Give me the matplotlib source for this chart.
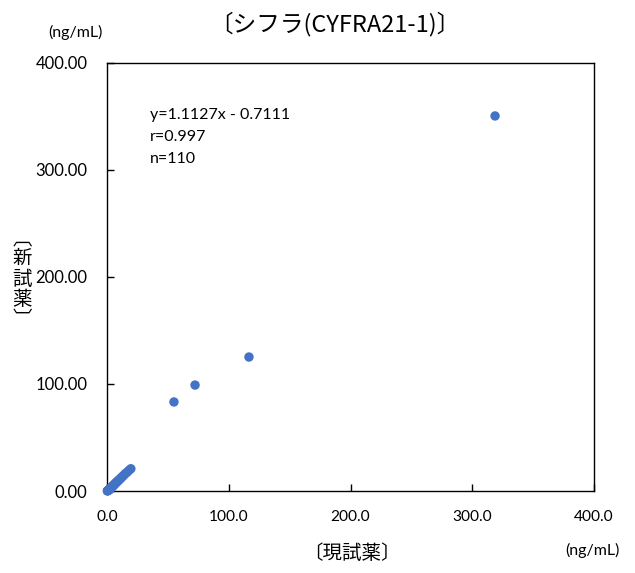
import matplotlib
matplotlib.use("Agg")
import matplotlib.pyplot as plt
import numpy as np

# current reagent (x) vs new reagent (y), ng/mL
current = [0.3, 0.5, 0.7, 0.9, 1.0, 1.2, 1.4, 1.5, 1.7, 1.9, 2.0, 2.2, 2.5, 2.7, 3.0,
           3.2, 3.5, 3.8, 4.0, 4.3, 4.6, 5.0, 5.4, 5.8, 6.2, 6.6, 7.0, 7.5, 8.0, 8.6,
           9.2, 9.8, 10.5, 11.2, 12.0, 13.0, 14.0, 15.2, 16.5, 18.0, 19.6,
           55.0, 72.3, 116.6, 318.7]
new = [0.1, 0.2, 0.4, 0.5, 0.6, 0.7, 0.9, 1.0, 1.2, 1.4, 1.5, 1.7, 2.0, 2.3, 2.6,
       2.8, 3.1, 3.6, 3.7, 4.1, 4.4, 4.9, 5.3, 5.8, 6.2, 6.8, 7.3, 7.7, 8.4, 9.0,
       9.6, 10.3, 11.1, 11.7, 12.8, 13.9, 15.0, 16.4, 17.5, 19.2, 20.8,
       83.2, 99.0, 125.2, 350.5]

stats_text = ["y=1.1127x - 0.7111", "r=0.997", "n=110"]
x_ticks = [0, 100, 200, 300, 400]
y_ticks = [0, 100, 200, 300, 400]

jp = ["Noto Sans CJK JP", "DejaVu Sans"]
num = ["Lato", "DejaVu Sans"]

fig = plt.figure(figsize=(6.35, 5.73), dpi=100)
ax = fig.add_axes([0.1685, 0.1431, 0.767, 0.747])

ax.scatter(current, new, s=46, color="#4472C4", edgecolors="none", zorder=3, clip_on=False)

ax.set_xlim(0, 400)
ax.set_ylim(0, 400)
ax.set_xticks(x_ticks)
ax.set_yticks(y_ticks)
ax.set_xticklabels(["%.1f" % v for v in x_ticks], family=num, fontsize=11.2)
ax.set_yticklabels(["%.2f" % v for v in y_ticks], family=num, fontsize=12)
ax.tick_params(direction="in", length=5, width=1, color="black")
ax.tick_params(axis="x", pad=14)
ax.tick_params(axis="y", pad=14)
for sp in ax.spines.values():
    sp.set_color("black")
    sp.set_linewidth(1)

for i, line in enumerate(stats_text):
    ax.text(150 / 635, 1 - (115 + 22 * i) / 573, line, transform=fig.transFigure,
            family=num, fontsize=11.5, va="center", ha="left")

fig.text(335 / 635, 1 - 24 / 573, "〔シフラ(CYFRA21-1)〕", family=jp, fontsize=17,
         ha="center", va="center")
fig.text(75 / 635, 1 - 32 / 573, "(ng/mL)", family=num, fontsize=11.5,
         ha="center", va="center")
fig.text(592 / 635, 1 - 550 / 573, "(ng/mL)", family=num, fontsize=11.5,
         ha="center", va="center")
fig.text(352 / 635, 1 - 553 / 573, "〔現試薬〕", family=jp, fontsize=14,
         ha="center", va="center")
fig.text(22 / 635, 1 - 279 / 573, "\n".join("︹新試薬︺"), family=jp, fontsize=14,
         ha="center", va="center", linespacing=0.95)

fig.savefig("out.png", dpi=100)
